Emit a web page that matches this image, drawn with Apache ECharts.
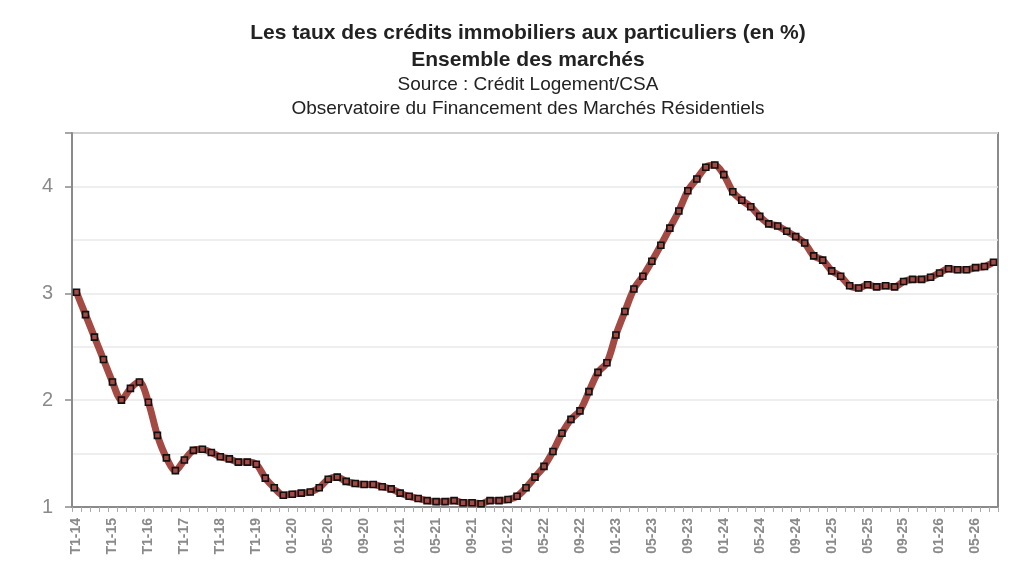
<!DOCTYPE html>
<html>
<head>
<meta charset="utf-8">
<script src="https://cdn.jsdelivr.net/npm/echarts@6/dist/echarts.min.js"></script>
<style>
  html, body { margin: 0; padding: 0; background: #fff; }
  #chart { width: 1024px; height: 581px; }
</style>
</head>
<body>
<div id="chart"></div>
<script>
// Années trimestrielles puis mensuelles
var quarterYears = ['14', '15', '16', '17', '18', '19'];
var quarterNames = ['T1', 'T2', 'T3', 'T4'];
var monthYears = ['20', '21', '22', '23', '24', '25', '26'];
var monthNames = ['01', '02', '03', '04', '05', '06', '07', '08', '09', '10', '11', '12'];
var lastMonth = '07-26';

// Taux moyen (%)
var taux = [
  3.01, 2.80, 2.59, 2.38, 2.17, 2.00, 2.11, 2.17, 1.98, 1.67, 1.46, 1.34,
  1.44, 1.53, 1.54, 1.51, 1.47, 1.45, 1.42, 1.42, 1.40, 1.27, 1.18, 1.11,
  1.12, 1.13, 1.14, 1.18, 1.26, 1.28, 1.24, 1.22, 1.21, 1.21, 1.19, 1.17,
  1.13, 1.10, 1.08, 1.06, 1.05, 1.05, 1.06, 1.04, 1.04, 1.03, 1.06, 1.06,
  1.07, 1.10, 1.18, 1.28, 1.38, 1.52, 1.69, 1.82, 1.90, 2.08, 2.26, 2.35,
  2.61, 2.83, 3.04, 3.16, 3.30, 3.45, 3.61, 3.77, 3.96, 4.07, 4.18, 4.20,
  4.11, 3.95, 3.87, 3.81, 3.72, 3.65, 3.63, 3.58, 3.53, 3.47, 3.35, 3.31,
  3.21, 3.16, 3.07, 3.05, 3.08, 3.06, 3.07, 3.06, 3.11, 3.13, 3.13, 3.15,
  3.19, 3.23, 3.22, 3.22, 3.24, 3.25, 3.29
];

var titleLines = [
  'Les taux des crédits immobiliers aux particuliers (en %)',
  'Ensemble des marchés',
  'Source : Crédit Logement/CSA',
  'Observatoire du Financement des Marchés Résidentiels'
];

var periodes = [];
quarterYears.forEach(function (y) {
  quarterNames.forEach(function (q) { periodes.push(q + '-' + y); });
});
var done = false;
monthYears.forEach(function (y) {
  monthNames.forEach(function (m) {
    if (done) return;
    var lab = m + '-' + y;
    periodes.push(lab);
    if (lab === lastMonth) done = true;
  });
});

var font = 'Liberation Sans, Arial, sans-serif';
var grey = '#8a8a8a';

var chart = echarts.init(document.getElementById('chart'));
chart.setOption({
  animation: false,
  textStyle: { fontFamily: font },
  title: [
    { text: titleLines[0], left: 523, textAlign: 'center', top: 18,
      textStyle: { fontSize: 21, fontWeight: 'bold', color: '#222' } },
    { text: titleLines[1], left: 523, textAlign: 'center', top: 45,
      textStyle: { fontSize: 21, fontWeight: 'bold', color: '#222' } },
    { text: titleLines[2], left: 523, textAlign: 'center', top: 70,
      textStyle: { fontSize: 19, fontWeight: 'normal', color: '#222' } },
    { text: titleLines[3], left: 523, textAlign: 'center', top: 94,
      textStyle: { fontSize: 19, fontWeight: 'normal', color: '#222' } }
  ],
  grid: {
    left: 72, right: 26, top: 133, bottom: 74,
    show: true, borderColor: grey, borderWidth: 2
  },
  xAxis: {
    type: 'category',
    data: periodes,
    boundaryGap: true,
    axisLine: { lineStyle: { color: grey, width: 2 } },
    axisTick: { show: true, interval: 0, length: 5, lineStyle: { color: '#aaa' } },
    axisLabel: {
      interval: 3, rotate: 90, margin: 11,
      color: grey, fontWeight: 'bold', fontSize: 14, fontFamily: font
    },
    splitLine: { show: false }
  },
  yAxis: [{
    type: 'value',
    min: 1, max: 4.5, interval: 0.5,
    axisLine: { show: true, lineStyle: { color: grey, width: 2 } },
    axisTick: { show: false },
    axisLabel: {
      margin: 19, color: grey, fontSize: 20, fontFamily: font,
      formatter: function (v) { return Number.isInteger(v) ? String(v) : ''; }
    },
    splitLine: { show: true, lineStyle: { color: '#e8e8e8', width: 1.5 } }
  }, {
    type: 'value',
    position: 'left',
    min: 1, max: 4.5, interval: 1,
    axisLine: { show: false },
    axisTick: { show: true, length: 7, lineStyle: { color: grey, width: 1.5 } },
    axisLabel: { show: false },
    splitLine: { show: false }
  }],
  series: [{
    type: 'line',
    data: taux,
    yAxisIndex: 0,
    smooth: 0.3,
    showAllSymbol: true,
    lineStyle: { color: '#a34a44', width: 7 },
    symbol: 'rect',
    symbolSize: 6,
    itemStyle: { color: '#a34a44', borderColor: '#111', borderWidth: 1.6 }
  }]
});
</script>
</body>
</html>
